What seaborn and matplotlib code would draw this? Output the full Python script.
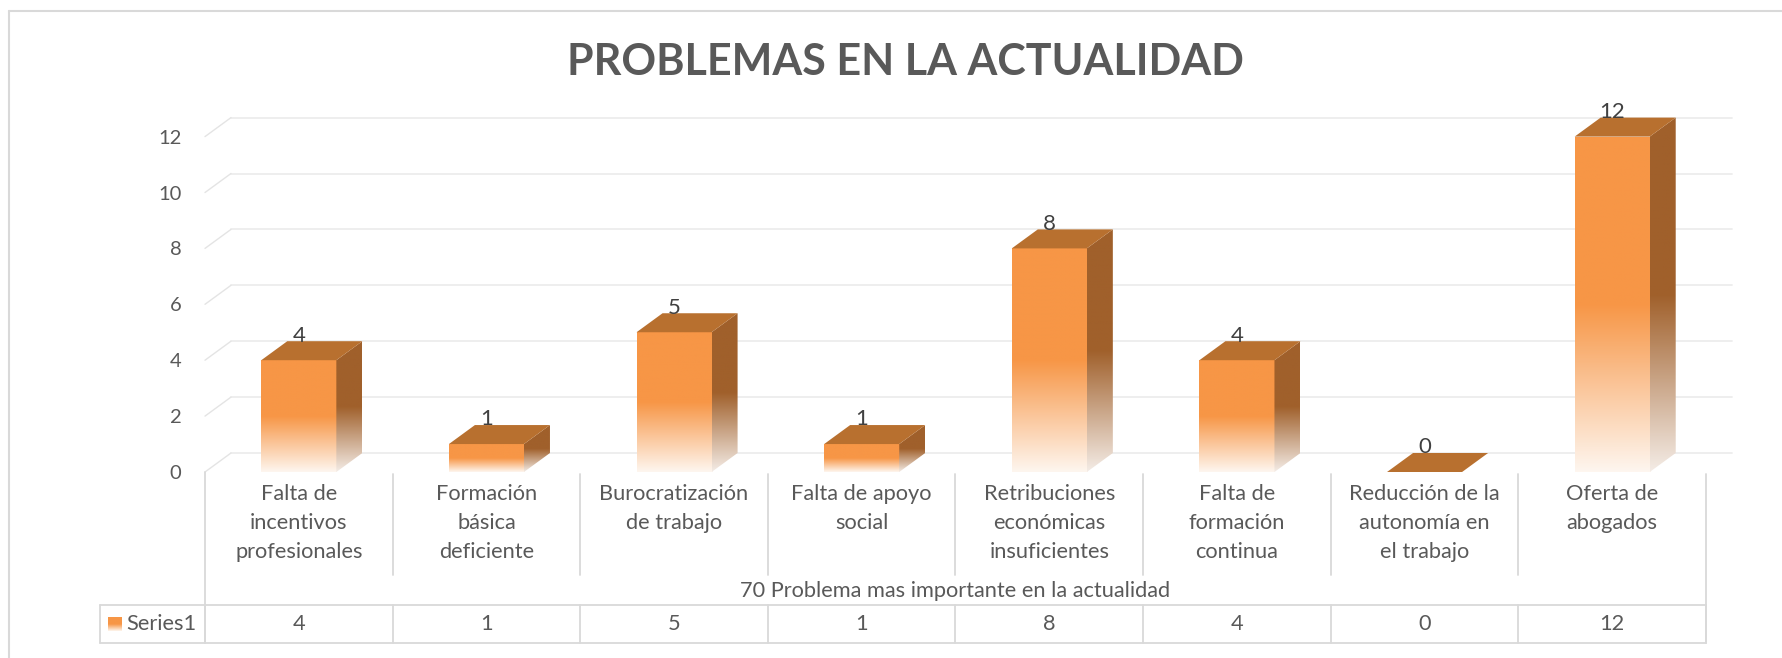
#%% Gráfico de barras 3D estilo Excel: problemas en la actualidad

import numpy as np
import pandas as pd
import seaborn as sns
import matplotlib.pyplot as plt
from matplotlib.colors import LinearSegmentedColormap
from matplotlib.patches import Polygon
from matplotlib.lines import Line2D
from matplotlib.transforms import blended_transform_factory

#%% Datos

categorias = ['Falta de\nincentivos\nprofesionales', 'Formación\nbásica\ndeficiente',
              'Burocratización\nde trabajo', 'Falta de apoyo\nsocial',
              'Retribuciones\neconómicas\ninsuficientes', 'Falta de\nformación\ncontinua',
              'Reducción de la\nautonomía en\nel trabajo', 'Oferta de\nabogados']
valores = [4, 1, 5, 1, 8, 4, 0, 12]
serie = 'Series1'
titulo = 'PROBLEMAS EN LA ACTUALIDAD'
titulo_eje = '70 Problema mas importante en la actualidad'
y_ticks = [0, 2, 4, 6, 8, 10, 12]

#%% Estilo

naranja = '#F79646'
lateral = '#A0602B'
tapa = '#B8702F'
gris_txt = '#595959'
gris_lin = '#D9D9D9'

sns.set_style('white')
plt.rcParams['font.family'] = ['Lato', 'DejaVu Sans']

W, H = 1783, 658
fig = plt.figure(figsize=(W / 100, H / 100), dpi=100)

def fx(px):
    return px / W

def fy(py):
    return 1 - py / H

# zona del gráfico (cara frontal)
px_unidad = 27.95
y_max = (472 - 100) / px_unidad
ax = fig.add_axes([fx(205), fy(472), fx(1706) - fx(205), fy(100) - fy(472)])

df = pd.DataFrame({'Problema': categorias, 'Cantidad': valores})
sns.barplot(data=df, x='Problema', y='Cantidad', color=naranja, width=0.4,
            ax=ax, zorder=3)

n = len(categorias)
ax.set_xlim(-0.5, n - 0.5)
ax.set_ylim(0, y_max)
ancho_cat = (1706 - 205) / n
dx = 26 / ancho_cat          # profundidad en x (datos)
dy = 19 / px_unidad          # profundidad en y (datos)

#%% Pared del fondo: líneas de cuadrícula

for v in y_ticks:
    ax.plot([-0.5 + dx, n - 0.5 + dx], [v + dy, v + dy], color='#EDEDED',
            lw=1.3, clip_on=False, zorder=0)
    ax.plot([-0.5, -0.5 + dx], [v, v + dy], color='#E4E4E4', lw=1.0,
            clip_on=False, zorder=0)

#%% Barras con degradado

cmap_frente = LinearSegmentedColormap.from_list(
    'frente', [(0, '#FEF6EF'), (0.5, naranja), (1, naranja)])
cmap_lado = LinearSegmentedColormap.from_list(
    'lado', [(0, '#F4ECE6'), (0.5, lateral), (1, lateral)])
grad = np.linspace(0, 1, 256).reshape(-1, 1)

for p, v in zip(list(ax.patches), valores):
    x0 = p.get_x()
    w = p.get_width()
    h = p.get_height()
    x1 = x0 + w
    p.set_facecolor('none')
    p.set_edgecolor('none')
    if h > 0:
        im = ax.imshow(grad, extent=[x0, x1, 0, h], origin='lower',
                       cmap=cmap_frente, aspect='auto', zorder=3)
        im.set_clip_path(p)
        lado = Polygon([(x1, 0), (x1, h), (x1 + dx, h + dy), (x1 + dx, dy)],
                       closed=True, facecolor='none', edgecolor='none')
        ax.add_patch(lado)
        im2 = ax.imshow(grad, extent=[x1, x1 + dx, 0, h + dy], origin='lower',
                        cmap=cmap_lado, aspect='auto', zorder=3)
        im2.set_clip_path(lado)
    ax.add_patch(Polygon([(x0, h), (x1, h), (x1 + dx, h + dy), (x0 + dx, h + dy)],
                         closed=True, facecolor=tapa, edgecolor='none', zorder=4))
    ax.annotate(str(v), (x0 + w / 2, h + dy), xytext=(0, 4),
                textcoords='offset points', ha='center', va='center',
                fontsize=16, color='#404040', zorder=5)

ax.set_xlim(-0.5, n - 0.5)
ax.set_ylim(0, y_max)

#%% Ejes

ax.set_yticks(y_ticks)
ax.set_yticklabels([str(t) for t in y_ticks], fontsize=14.5, color=gris_txt)
ax.tick_params(axis='y', length=0, pad=17)
ax.tick_params(axis='x', length=0, pad=9)
ax.set_xticks(range(n))
ax.set_xticklabels(categorias, fontsize=15.7, color=gris_txt, linespacing=1.55)
ax.set_xlabel('')
ax.set_ylabel('')
for s in ax.spines.values():
    s.set_visible(False)
ax.patch.set_alpha(0)

#%% Tabla de datos

tr = blended_transform_factory(ax.transData, fig.transFigure)
for i in range(1, n):
    ax.add_line(Line2D([i - 0.5, i - 0.5], [fy(474), fy(575)], transform=tr,
                       color=gris_lin, lw=1.3, clip_on=False))
for i in range(n + 1):
    ax.add_line(Line2D([i - 0.5, i - 0.5], [fy(605), fy(643)], transform=tr,
                       color=gris_lin, lw=1.3, clip_on=False))
ax.add_line(Line2D([-0.5, -0.5], [fy(472), fy(643)], transform=tr,
                   color=gris_lin, lw=1.3, clip_on=False))
ax.add_line(Line2D([n - 0.5, n - 0.5], [fy(474), fy(643)], transform=tr,
                   color=gris_lin, lw=1.3, clip_on=False))
x_izq = -0.5 - (205 - 100) / ancho_cat
for yy in [605, 643]:
    ax.add_line(Line2D([x_izq, n - 0.5], [fy(yy), fy(yy)], transform=tr,
                       color=gris_lin, lw=1.3, clip_on=False))
ax.add_line(Line2D([x_izq, x_izq], [fy(605), fy(643)], transform=tr,
                   color=gris_lin, lw=1.3, clip_on=False))

for i, v in enumerate(valores):
    ax.text(i, fy(624), str(v), transform=tr, ha='center', va='center',
            fontsize=15.7, color=gris_txt)

ax.text((n - 1) / 2, fy(591), titulo_eje, transform=tr, ha='center',
        va='center', fontsize=15.7, color=gris_txt)

# clave de la serie
ax_ley = fig.add_axes([fx(108), fy(631), fx(14), 14 / H])
ax_ley.imshow(grad, origin='lower', cmap=cmap_frente, aspect='auto')
ax_ley.axis('off')
fig.text(fx(126), fy(624), serie, ha='left', va='center', fontsize=15.7,
         color=gris_txt)

#%% Título y borde

fig.text(fx(905), fy(62), titulo, ha='center', va='center', fontsize=31,
         fontweight='bold', color=gris_txt)
fig.add_artist(Line2D([fx(9), fx(9)], [0, fy(11)], color=gris_lin, lw=1.5))
fig.add_artist(Line2D([fx(9), 1], [fy(11), fy(11)], color=gris_lin, lw=1.5))

fig.savefig('out.png', dpi=100, facecolor='white')
